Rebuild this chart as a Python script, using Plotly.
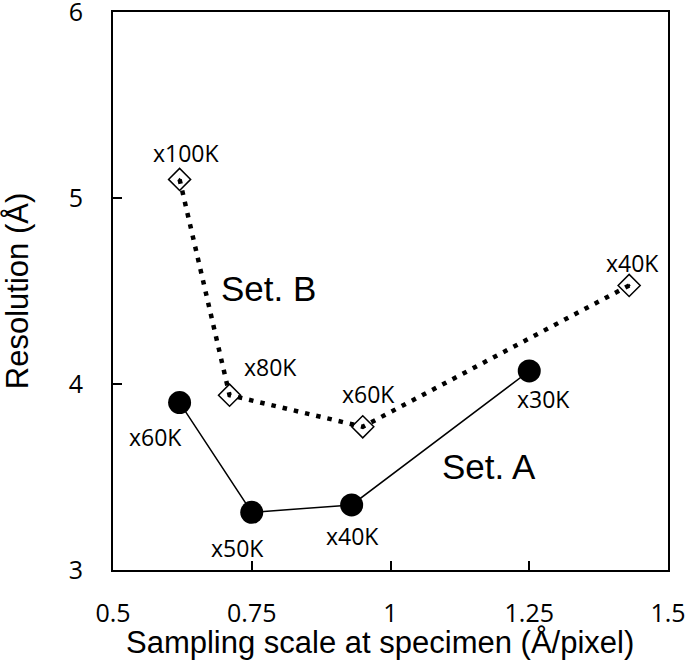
import plotly.graph_objects as go

# Set A data (filled circles, solid line)
set_a_x = [0.62, 0.75, 0.93, 1.25]
set_a_y = [3.90, 3.31, 3.35, 4.07]
set_a_labels = ["x60K", "x50K", "x40K", "x30K"]

# Set B data (open diamonds, dotted line)
set_b_x = [0.62, 0.71, 0.95, 1.43]
set_b_y = [5.10, 3.94, 3.77, 4.53]
set_b_labels = ["x100K", "x80K", "x60K", "x40K"]

x_ticks = [0.5, 0.75, 1, 1.25, 1.5]
x_ticktext = ["0.5", "0.75", "1", "1.25", "1.5"]
y_ticks = [3, 4, 5, 6]

# label offsets in pixels (dx, dy up)
a_offsets = [(-24, -34), (-14, -36), (1, -31), (14, -28)]
b_offsets = [(6, 26), (41, 28), (6, 33), (3, 22)]

fig = go.Figure()
fig.add_trace(go.Scatter(
    x=set_a_x, y=set_a_y, mode="lines+markers",
    line=dict(color="black", width=1.5),
    marker=dict(symbol="circle", size=23, color="black"),
    showlegend=False, cliponaxis=False))
fig.add_trace(go.Scatter(
    x=set_b_x, y=set_b_y, mode="lines+markers",
    line=dict(color="black", width=4.5, dash="4.5px,7px"),
    marker=dict(symbol="diamond-open-dot", size=17, color="black",
                line=dict(width=1.5, color="black")),
    showlegend=False, cliponaxis=False))

lab_font = dict(family="Open Sans, Liberation Sans, sans-serif", size=23, color="black")
for x, y, t, (dx, dy) in zip(set_a_x, set_a_y, set_a_labels, a_offsets):
    fig.add_annotation(x=x, y=y, text=t, showarrow=False, xshift=dx, yshift=dy, font=lab_font)
for x, y, t, (dx, dy) in zip(set_b_x, set_b_y, set_b_labels, b_offsets):
    fig.add_annotation(x=x, y=y, text=t, showarrow=False, xshift=dx, yshift=dy, font=lab_font)

set_font = dict(family="Liberation Sans, Arial, sans-serif", size=35, color="black")
fig.add_annotation(x=0.781, y=4.516, text="Set. B", showarrow=False, font=set_font)
fig.add_annotation(x=1.178, y=3.554, text="Set. A", showarrow=False, font=set_font)

title_font = dict(family="Liberation Sans, Arial, sans-serif", size=31, color="black")
# x-axis title (slightly left of centre, as in the reference)
fig.add_annotation(xref="paper", yref="paper", x=0.481, y=0, yanchor="middle",
                   yshift=-72, text="Sampling scale at specimen (Å/pixel)",
                   showarrow=False, font=title_font)

axis_common = dict(showline=True, linecolor="black", linewidth=2, mirror=True,
                   ticks="inside", ticklen=9, tickwidth=2, tickcolor="black",
                   showgrid=False, zeroline=False, automargin=False,
                   ticklabeloverflow="allow",
                   tickfont=dict(family="Open Sans, Liberation Sans, sans-serif", size=25, color="black"))

fig.update_xaxes(range=[0.5, 1.5], tickvals=x_ticks, ticktext=x_ticktext,
                 ticklabelstandoff=20, **axis_common)
fig.update_yaxes(range=[3, 6], tickvals=y_ticks,
                 title=dict(text="Resolution (Å)", standoff=33, font=title_font),
                 ticklabelstandoff=23, **axis_common)

fig.update_layout(width=685, height=663, margin=dict(l=113, r=17, t=12, b=93),
                  plot_bgcolor="white", paper_bgcolor="white")
# remove the page's default body margin so the figure fills the window
fig.write_html("out.html", config={"displayModeBar": False},
               post_script="document.body.style.margin='0';")
